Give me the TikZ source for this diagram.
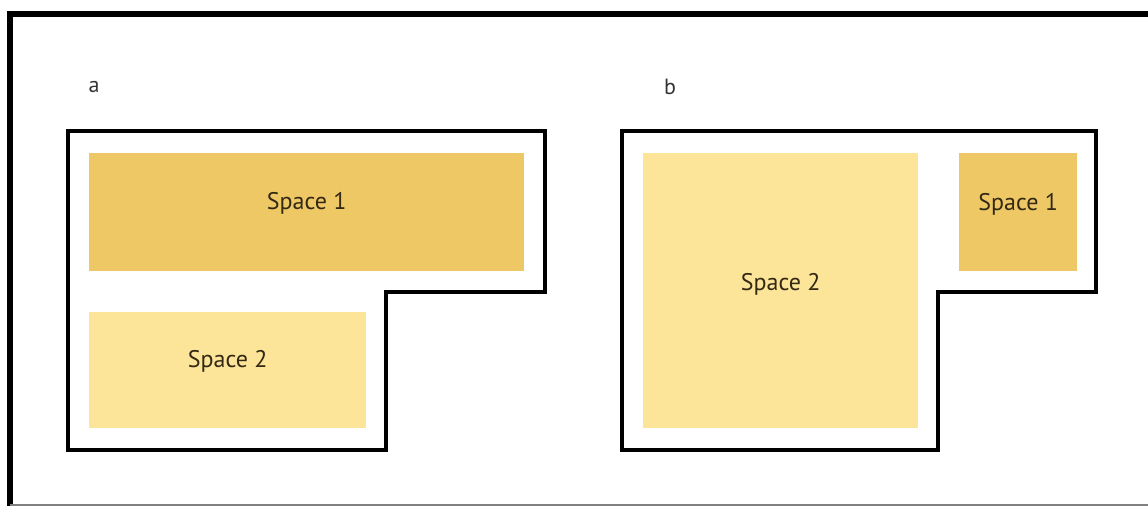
\documentclass[tikz,border=0pt]{standalone}
\usepackage{fontspec}
\setmainfont{PT Sans}
\usetikzlibrary{positioning}
\definecolor{spaceone}{RGB}{239,200,102}
\definecolor{spacetwo}{RGB}{252,228,152}
\definecolor{labeltext}{RGB}{50,40,20}

\tikzset{
  plan/.style={line width=4pt, line join=miter},
  spacebox/.style={draw=none, inner sep=0pt, anchor=north west},
  spacelbl/.style={text=labeltext, font=\fontsize{24}{28}\selectfont},
  caselbl/.style={text=black!80, font=\fontsize{22}{26}\selectfont}
}

\begin{document}
\begin{tikzpicture}[x=1pt, y=-1pt]
    \useasboundingbox (0,0) rectangle (1148,506);

    % Frame
    \fill[white] (0,0) rectangle (1148,506);
    \draw[line width=6.5pt] (10,506) -- (10,14) -- (1148,14);
    \draw[gray, line width=1.5pt] (10,505) -- (1148,505);

    % Case a
    \node[caselbl] (capa) at (94,87) {a};
    \draw[plan] (68,131) -- (545,131) -- (545,292) -- (386,292)
        -- (386,450) -- (68,450) -- cycle;
    \node[spacebox, fill=spaceone, minimum width=435pt, minimum height=118pt] (a1) at (89,153) {};
    \node[spacebox, fill=spacetwo, minimum width=277pt, minimum height=116pt] (a2) at (89,312) {};
    \node[spacelbl] at ([yshift=9pt]a1.center) {Space 1};
    \node[spacelbl] at ([yshift=9pt]a2.center) {Space 2};

    % Case b
    \node[caselbl] (capb) at (670,87) {b};
    \draw[plan] (622,131) -- (1096,131) -- (1096,292) -- (938,292)
        -- (938,450) -- (622,450) -- cycle;
    \node[spacebox, fill=spacetwo, minimum width=275pt, minimum height=275pt] (b2) at (643,153) {};
    \node[spacebox, fill=spaceone, minimum width=118pt, minimum height=118pt] (b1) at (959,153) {};
    \node[spacelbl] at ([yshift=8pt]b1.center) {Space 1};
    \node[spacelbl] at ([yshift=6pt]b2.center) {Space 2};

\end{tikzpicture}
\end{document}
